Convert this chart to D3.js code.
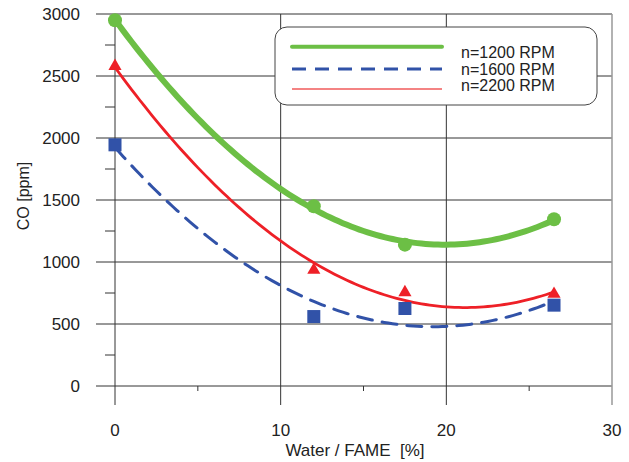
<!DOCTYPE html>
<html><head><meta charset="utf-8">
<script src="https://cdn.jsdelivr.net/npm/d3@7"></script>
<style>body{margin:0;background:#fff}text{font-family:"Liberation Sans",Arial,sans-serif;fill:#222}</style>
</head><body><svg id="c" width="629" height="462"></svg>
<script>
const waterFame = [0, 12, 17.5, 26.5];
const co1200 = [2950, 1450, 1140, 1345];
const co1600 = [1945, 560, 625, 652];
const co2200 = [2580, 935, 755, 742];
const seriesNames = ["n=1200 RPM", "n=1600 RPM", "n=2200 RPM"];
const yTicks = [0, 500, 1000, 1500, 2000, 2500, 3000];
const xTicks = [0, 10, 20, 30];

const svg = d3.select("#c");
const x = d3.scaleLinear().domain([0, 30]).range([115, 612]);
const y = d3.scaleLinear().domain([0, 3000]).range([386, 14]);

// grid
const g = svg.append("g");
yTicks.forEach(v => g.append("line").attr("x1", 96).attr("x2", 612).attr("y1", y(v)).attr("y2", y(v)).attr("stroke", "#333").attr("stroke-width", 1));
d3.range(250, 3000, 500).forEach(v => g.append("line").attr("x1", 105).attr("x2", 115).attr("y1", y(v)).attr("y2", y(v)).attr("stroke", "#333"));
xTicks.forEach(v => g.append("line").attr("x1", x(v)).attr("x2", x(v)).attr("y1", y(3000)).attr("y2", 405).attr("stroke", v === 30 ? "#999" : "#333").attr("stroke-width", v === 30 ? 1.5 : 1));
[5, 15, 25].forEach(v => g.append("line").attr("x1", x(v)).attr("x2", x(v)).attr("y1", y(0)).attr("y2", y(0) + 5).attr("stroke", "#333"));

yTicks.forEach(v => svg.append("text").attr("x", 80).attr("y", y(v) + 6).attr("text-anchor", "end").attr("font-size", 17).text(v));
xTicks.forEach(v => svg.append("text").attr("x", x(v)).attr("y", 436).attr("text-anchor", "middle").attr("font-size", 17).text(v));
svg.append("text").attr("x", 355).attr("y", 456).attr("text-anchor", "middle").attr("font-size", 17).attr("xml:space", "preserve").style("white-space", "pre").text("Water / FAME  [%]");
svg.append("text").attr("transform", "translate(29,196) rotate(-90)").attr("text-anchor", "middle").attr("font-size", 16).text("CO [ppm]");

// quadratic least-squares trendline of each series
function quadFit(xs, ys) {
  let S = [0,0,0,0,0], T = [0,0,0];
  xs.forEach((xv, i) => { for (let k = 0; k < 5; k++) S[k] += Math.pow(xv, k); for (let k = 0; k < 3; k++) T[k] += ys[i] * Math.pow(xv, k); });
  const A = [[S[0],S[1],S[2],T[0]],[S[1],S[2],S[3],T[1]],[S[2],S[3],S[4],T[2]]];
  for (let i = 0; i < 3; i++) { for (let j = i + 1; j < 3; j++) { const f = A[j][i] / A[i][i]; for (let k = i; k < 4; k++) A[j][k] -= f * A[i][k]; } }
  const c = [0,0,0];
  for (let i = 2; i >= 0; i--) { let s = A[i][3]; for (let k = i + 1; k < 3; k++) s -= A[i][k] * c[k]; c[i] = s / A[i][i]; }
  return xv => c[0] + c[1] * xv + c[2] * xv * xv;
}
const line = d3.line().x(d => x(d[0])).y(d => y(d[1]));
function trend(ys, color, w, dash) {
  const f = quadFit(waterFame, ys);
  const pts = d3.range(0, 26.5001, 0.25).map(v => [v, f(v)]);
  svg.append("path").attr("d", line(pts)).attr("fill", "none").attr("stroke", color).attr("stroke-width", w).attr("stroke-dasharray", dash || null).attr("stroke-linecap", "round");
}
const cG = "#6cbf45", cB = "#3152a8", cR = "#ee2027";
trend(co1200, cG, 6);
trend(co2200, cR, 2.8);
trend(co1600, cB, 3, "15 10");

// markers
waterFame.forEach((xv, i) => svg.append("circle").attr("cx", x(xv)).attr("cy", y(co1200[i])).attr("r", 7).attr("fill", cG));
waterFame.forEach((xv, i) => svg.append("path").attr("d", d3.symbol(d3.symbolTriangle, 75)()).attr("transform", `translate(${x(xv)},${y(co2200[i])})`).attr("fill", cR));
waterFame.forEach((xv, i) => svg.append("rect").attr("x", x(xv) - 6.5).attr("y", y(co1600[i]) - 6.5).attr("width", 13).attr("height", 13).attr("fill", cB));

// legend
const lg = svg.append("g");
lg.append("rect").attr("x", 275).attr("y", 27).attr("width", 322).attr("height", 78).attr("rx", 12).attr("fill", "#fff").attr("stroke", "#444").attr("stroke-width", 1);
const legendStyles = [[cG, 4, null, 46.7], [cB, 3, "14 9", 69], [ "#f05a5a", 1.5, null, 89]];
seriesNames.forEach((nm, i) => {
  const s = legendStyles[i];
  lg.append("line").attr("x1", 292).attr("x2", 442).attr("y1", s[3]).attr("y2", s[3]).attr("stroke", s[0]).attr("stroke-width", s[1]).attr("stroke-dasharray", s[2]).attr("stroke-linecap", i === 0 ? "round" : "butt");
  lg.append("text").attr("x", 461).attr("y", [58, 75, 91][i]).attr("font-size", 16).text(nm);
});
</script></body></html>
